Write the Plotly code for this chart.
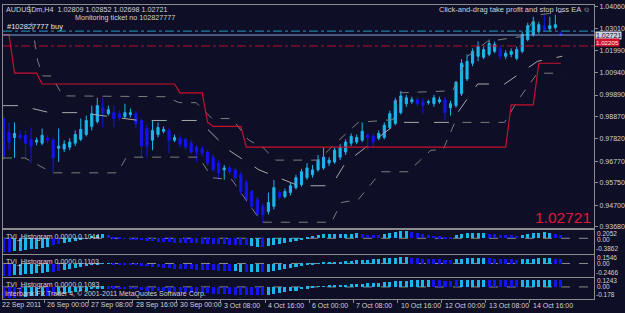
import plotly.graph_objects as go

# ---------------- data ----------------
open_ = [0.9878,0.9813,0.9789,0.9799,0.9799,0.9780,0.9767,0.9762,0.9785,0.9776,
         0.9738,0.9734,0.9743,0.9762,0.9780,0.9803,0.9841,0.9864,0.9929,0.9901,
         0.9906,0.9901,0.9887,0.9897,0.9901,0.9869,0.9831,0.9776,0.9803,0.9818,
         0.9822,0.9776,0.9785,0.9780,0.9762,0.9743,0.9734,0.9720,0.9696,0.9668,
         0.9636,0.9645,0.9636,0.9613,0.9575,0.9534,0.9496,0.9464,0.9440,0.9464,
         0.9529,0.9510,0.9529,0.9552,0.9566,0.9599,0.9613,0.9636,0.9645,0.9668,
         0.9673,0.9696,0.9720,0.9762,0.9767,0.9776,0.9799,0.9794,0.9785,0.9789,
         0.9836,0.9855,0.9906,0.9948,0.9957,0.9967,0.9957,0.9953,0.9948,0.9957,
         0.9967,0.9929,0.9939,0.9995,1.0065,1.0139,1.0172,1.0167,1.0181,1.0195,
         1.0209,1.0172,1.0181,1.0162,1.0195,1.0251,1.0274,1.0288,1.0316,1.0302,
         1.0307,1.02809]
high = [0.9892,0.9860,0.9860,0.9822,0.9822,0.9836,0.9789,0.9831,0.9799,0.9789,
        0.9831,0.9776,0.9785,0.9822,0.9878,0.9892,0.9939,0.9976,0.9976,0.9939,
        0.9939,0.9915,0.9948,0.9925,0.9915,0.9878,0.9850,0.9869,0.9860,0.9841,
        0.9836,0.9803,0.9799,0.9789,0.9776,0.9752,0.9748,0.9729,0.9711,0.9682,
        0.9659,0.9654,0.9645,0.9627,0.9589,0.9543,0.9510,0.9478,0.9529,0.9589,
        0.9543,0.9548,0.9575,0.9613,0.9641,0.9668,0.9659,0.9706,0.9743,0.9696,
        0.9743,0.9757,0.9780,0.9808,0.9803,0.9860,0.9808,0.9808,0.9822,0.9860,
        0.9915,0.9976,1.0009,0.9990,0.9981,0.9981,0.9976,0.9967,0.9990,0.9981,
        0.9981,0.9962,1.0055,1.0158,1.0181,1.0209,1.0242,1.0218,1.0251,1.0242,
        1.0223,1.0200,1.0209,1.0218,1.0288,1.0330,1.0358,1.0335,1.0367,1.0358,
        1.0367,1.02852]
low = [0.9682,0.9729,0.9692,0.9776,0.9692,0.9668,0.9752,0.9752,0.9762,0.9622,
       0.9673,0.9720,0.9729,0.9748,0.9771,0.9794,0.9822,0.9855,0.9836,0.9892,
       0.9836,0.9869,0.9878,0.9883,0.9831,0.9696,0.9696,0.9729,0.9789,0.9808,
       0.9715,0.9767,0.9743,0.9729,0.9711,0.9673,0.9701,0.9654,0.9627,0.9589,
       0.9589,0.9613,0.9580,0.9520,0.9482,0.9449,0.9417,0.9389,0.9426,0.9449,
       0.9496,0.9501,0.9515,0.9543,0.9557,0.9589,0.9599,0.9627,0.9636,0.9654,
       0.9664,0.9682,0.9706,0.9748,0.9757,0.9767,0.9729,0.9743,0.9776,0.9780,
       0.9827,0.9846,0.9897,0.9934,0.9948,0.9934,0.9901,0.9943,0.9934,0.9948,
       0.9869,0.9892,0.9929,0.9985,1.0055,1.0125,1.0148,1.0158,1.0172,1.0186,
       1.0158,1.0158,1.0167,1.0153,1.0186,1.0242,1.0265,1.0279,1.0288,1.0288,
       1.0298,1.02698]
close = [0.9692,0.9767,0.9808,0.9789,0.9762,0.9748,0.9776,0.9799,0.9776,0.9692,
         0.9748,0.9757,0.9767,0.9803,0.9827,0.9869,0.9901,0.9939,0.9901,0.9920,
         0.9878,0.9883,0.9906,0.9906,0.9855,0.9748,0.9748,0.9822,0.9836,0.9827,
         0.9776,0.9789,0.9757,0.9743,0.9720,0.9720,0.9715,0.9668,0.9636,0.9622,
         0.9645,0.9627,0.9599,0.9534,0.9496,0.9464,0.9426,0.9426,0.9482,0.9552,
         0.9506,0.9534,0.9561,0.9599,0.9627,0.9645,0.9636,0.9682,0.9696,0.9682,
         0.9729,0.9743,0.9767,0.9794,0.9789,0.9818,0.9789,0.9767,0.9808,0.9846,
         0.9901,0.9962,0.9985,0.9976,0.9967,0.9948,0.9939,0.9957,0.9976,0.9967,
         0.9906,0.9948,1.0050,1.0139,1.0148,1.0195,1.0218,1.0204,1.0232,1.0228,
         1.0172,1.0186,1.0195,1.0204,1.0274,1.0316,1.0335,1.0321,1.0298,1.0316,
         1.0321,1.02721]

# red trailing-stop step line (bar position, price)
red_x = [0, 1, 2, 6, 7, 31, 32, 36, 37, 38, 43, 44, 91, 92, 96, 97, 101]
red_y = [1.0274, 1.0274, 1.0092, 1.0092, 1.0041, 1.0041, 0.9999, 0.9999, 0.9860,
         0.9841, 0.9841, 0.9743, 0.9743, 0.9943, 0.9943, 1.0139, 1.0139]

# grey channel lines (bar position, price)
up_x = [4.6, 6.22, 7.12, 8.75, 10.73, 29.49, 31.83, 34.9, 37.78, 41.39, 44.45, 47.16,
        49.32, 57.08, 59.79, 64.3, 70.6, 71.5, 81.4, 84.1, 87.7, 94.0, 96.8, 101.3]
up_y = [1.0414, 1.0148, 1.0079, 1.0079, 0.9985, 0.9981, 0.9953, 0.9953, 0.9878, 0.9878,
        0.9776, 0.9738, 0.9682, 0.9682, 0.9752, 0.9860, 0.9873, 0.9999, 1.0009, 1.0172,
        1.0242, 1.0265, 1.0367, 1.0381]
mid_x = [-0.09, 2.98, 8.39, 13.8, 24.6, 35.4, 40.8, 46.3, 53.5, 59.42, 61.94, 71.5,
         81.06, 85.93, 90.8, 96.75, 101.26]
mid_y = [0.9939, 0.9939, 0.9906, 0.9906, 0.9869, 0.9869, 0.9729, 0.9636, 0.9561, 0.9561,
         0.9668, 0.9860, 0.9860, 1.0041, 1.0041, 1.0148, 1.0172]
lo_x = [-0.09, 3.88, 8.93, 20.65, 22.27, 35.4, 37.8, 41.4, 43.9, 46.8, 59.42, 61.23, 64.29,
        68.44, 73.31, 77.46, 79.62, 81.79, 90.8, 93.14, 96.75, 101.26]
lo_y = [0.9692, 0.9692, 0.9622, 0.9622, 0.9696, 0.9696, 0.9599, 0.9589, 0.9496, 0.9389,
        0.9389, 0.9482, 0.9496, 0.9627, 0.9627, 0.9729, 0.9729, 0.9860, 0.9860, 0.9962,
        1.0092, 1.0092]

take_profit = 1.02905
bid = 1.02721
stop_loss = 1.02205

price_ticks = [1.04060, 1.03010, 1.01990, 1.00940, 0.99890, 0.98870,
               0.97820, 0.96770, 0.95750, 0.94700, 0.93680]

time_labels = ["22 Sep 2011", "26 Sep 00:00", "27 Sep 08:00", "28 Sep 16:00",
               "30 Sep 00:00", "3 Oct 08:00", "4 Oct 16:00", "6 Oct 00:00",
               "7 Oct 08:00", "10 Oct 16:00", "12 Oct 00:00", "13 Oct 08:00",
               "14 Oct 16:00"]

tvi1 = [-0.344,-0.332,-0.320,-0.308,-0.295,-0.271,-0.258,-0.246,-0.221,-0.172,
        -0.148,-0.123,-0.098,-0.074,-0.049,-0.017,0.062,0.086,0.098,0.074,
        0.037,0.012,-0.012,-0.025,-0.037,-0.049,-0.062,-0.074,-0.086,-0.098,
        -0.098,-0.111,-0.123,-0.123,-0.123,-0.123,-0.135,-0.135,-0.148,-0.148,
        -0.148,-0.160,-0.160,-0.172,-0.172,-0.197,-0.209,-0.209,-0.185,-0.160,
        -0.135,-0.111,-0.086,-0.062,-0.025,0.037,0.062,0.074,0.098,0.098,
        0.098,0.111,0.111,0.111,0.123,0.098,0.086,0.086,0.074,0.098,
        0.123,0.148,0.185,0.172,0.148,0.123,0.098,0.074,0.062,0.049,
        0.025,0.037,0.074,0.098,0.123,0.123,0.135,0.135,0.111,0.098,
        0.086,0.074,0.074,0.062,0.086,0.098,0.123,0.135,0.148,0.135,
        0.098,0.086]
tvi1_dir = ("DD" + "U"*7 + "DD" + "U"*8 + "D"*26 + "UU" + "D" + "U"*17 + "D"*4
            + "U"*5 + "D"*8 + "U"*6 + "D"*6 + "U"*6 + "DD")
tvi2 = [-0.218,-0.209,-0.201,-0.192,-0.183,-0.174,-0.166,-0.157,-0.148,-0.140,
        -0.131,-0.113,-0.096,-0.078,-0.061,-0.044,-0.026,-0.009,0.005,0.005,
        -0.005,-0.009,-0.012,-0.017,-0.026,-0.035,-0.044,-0.052,-0.061,-0.070,
        -0.078,-0.087,-0.087,-0.096,-0.096,-0.105,-0.105,-0.113,-0.113,-0.122,
        -0.122,-0.131,-0.131,-0.140,-0.140,-0.148,-0.148,-0.148,-0.140,-0.122,
        -0.105,-0.087,-0.070,-0.052,-0.035,-0.017,-0.005,0.005,0.014,0.021,
        0.028,0.035,0.044,0.052,0.061,0.070,0.073,0.078,0.087,0.096,
        0.096,0.105,0.113,0.113,0.105,0.096,0.087,0.087,0.078,0.078,
        0.073,0.073,0.078,0.087,0.096,0.096,0.105,0.105,0.096,0.087,
        0.087,0.078,0.078,0.070,0.078,0.087,0.087,0.096,0.096,0.096,
        0.087,0.078]
tvi2_dir = ("DD" + "U"*7 + "DD" + "U"*9 + "D"*22 + "UU" + "D" + "UU" + "D" + "U"*26
            + "D"*8 + "U"*6 + "D"*6 + "U"*6 + "DD")
tvi3 = [-0.173,-0.173,-0.166,-0.158,-0.151,-0.144,-0.144,-0.137,-0.137,-0.130,
        -0.122,-0.115,-0.101,-0.086,-0.072,-0.058,-0.043,-0.036,-0.029,-0.029,
        -0.029,-0.032,-0.036,-0.040,-0.043,-0.050,-0.058,-0.065,-0.072,-0.072,
        -0.079,-0.079,-0.086,-0.086,-0.094,-0.094,-0.101,-0.101,-0.108,-0.108,
        -0.115,-0.115,-0.122,-0.122,-0.130,-0.130,-0.130,-0.130,-0.122,-0.115,
        -0.101,-0.086,-0.072,-0.058,-0.043,-0.029,-0.017,-0.007,0.004,0.010,
        0.014,0.022,0.029,0.033,0.037,0.043,0.048,0.052,0.058,0.065,
        0.072,0.079,0.086,0.086,0.089,0.089,0.091,0.091,0.094,0.091,
        0.086,0.086,0.091,0.094,0.098,0.101,0.101,0.101,0.098,0.094,
        0.094,0.091,0.089,0.089,0.094,0.101,0.101,0.101,0.101,0.101,
        0.098,0.094]
tvi3_dir = ("D"*4 + "U"*4 + "DD" + "U"*9 + "D"*29 + "U"*30 + "D"*5 + "U"*5 + "D"*6
            + "U"*6 + "DD")

panel_ranges = [(-0.3862, 0.2052), (-0.2466, 0.1546), (-0.178, 0.1243)]
panel_titles = ["TVI_Histogram 0.0000 0.1044", "TVI_Histogram 0.0000 0.1103",
                "TVI_Histogram 0.0000 0.1083"]

# ---------------- style ----------------
W, H = 625, 313
BG = "#0e0e27"
FRAME = "#8c8c8c"
TXT = "#d2d2d2"
CYAN = "#1cb6ec"
BLUE = "#1414f0"
GREY = "#7d7d7d"
GREY_L = "#a8a8a8"
RED = "#c8102e"
FONT = "Liberation Sans"

def px_x(p):
    return p / W

def px_y(p):
    return 1 - p / H

n = len(close)
bars = list(range(n))
xr = [-0.09, 107.03]

fig = go.Figure()

# channel lines
for xs, ys, col, dash in [(up_x, up_y, GREY, "dash"), (lo_x, lo_y, GREY, "dash"),
                          (mid_x, mid_y, GREY_L, "longdash")]:
    fig.add_trace(go.Scatter(x=xs, y=ys, mode="lines", line=dict(color=col, width=1, dash=dash),
                             xaxis="x", yaxis="y", hoverinfo="skip", showlegend=False))
fig.add_trace(go.Scatter(x=red_x, y=red_y, mode="lines", line=dict(color=RED, width=1.2),
                         xaxis="x", yaxis="y", hoverinfo="skip", showlegend=False))

fig.add_trace(go.Candlestick(
    x=bars, open=open_, high=high, low=low, close=close,
    increasing=dict(line=dict(color=CYAN, width=1), fillcolor=CYAN),
    decreasing=dict(line=dict(color=BLUE, width=1), fillcolor=BLUE),
    whiskerwidth=0, xaxis="x", yaxis="y", hoverinfo="skip", showlegend=False))

for k, (vals, dirs) in enumerate([(tvi1, tvi1_dir), (tvi2, tvi2_dir), (tvi3, tvi3_dir)]):
    fig.add_trace(go.Bar(x=bars, y=vals, width=0.55,
                         marker=dict(color=[CYAN if d == "U" else BLUE for d in dirs], line=dict(width=0)),
                         xaxis="x%d" % (k + 2), yaxis="y%d" % (k + 2),
                         hoverinfo="skip", showlegend=False))

# panel geometry (pixels)
main_px = (3, 229)
panels_px = [(231, 255), (256, 279), (280, 301)]
xdom = [px_x(3), px_x(597)]

layout = dict(
    width=W, height=H, margin=dict(l=0, r=0, t=0, b=0),
    paper_bgcolor=BG, plot_bgcolor=BG, boxgap=0.45, bargap=0,
    font=dict(family=FONT, size=7, color=TXT),
    showlegend=False,
)
axis_common = dict(showgrid=False, zeroline=False, showline=True, linecolor=FRAME,
                   linewidth=1, mirror=True)
layout["xaxis"] = dict(domain=xdom, range=xr, anchor="y", showticklabels=False, ticks="",
                       rangeslider=dict(visible=False), **axis_common)
layout["yaxis"] = dict(domain=[px_y(main_px[1]), px_y(main_px[0])], range=[0.93614, 1.04139],
                       anchor="x", side="right", tickvals=price_ticks,
                       ticktext=["%.5f" % v for v in price_ticks], ticks="outside", ticklen=3,
                       tickcolor=FRAME, tickfont=dict(size=7, color=TXT), **axis_common)
for k, (top, bot) in enumerate(panels_px):
    xa, ya = "xaxis%d" % (k + 2), "yaxis%d" % (k + 2)
    last = k == 2
    layout[xa] = dict(domain=xdom, range=xr, anchor="y%d" % (k + 2), showticklabels=False,
                      ticks="outside" if last else "", ticklen=3, tickcolor=FRAME,
                      tickvals=[8 * i - 0.6 for i in range(len(time_labels))] if last else None,
                      **axis_common)
    layout[ya] = dict(domain=[px_y(bot), px_y(top)], range=list(panel_ranges[k]),
                      anchor="x%d" % (k + 2), side="right", showticklabels=False, ticks="",
                      **axis_common)
fig.update_layout(**layout)

shapes = []
# zero level lines in indicator windows
for k in range(3):
    shapes.append(dict(type="line", xref="x%d domain" % (k + 2), x0=0, x1=1,
                       yref="y%d" % (k + 2), y0=0, y1=0, layer="below",
                       line=dict(color="#8a8a8a", width=1, dash="dash")))
shapes.append(dict(type="line", xref="x domain", x0=0, x1=1, yref="y", y0=take_profit,
                   y1=take_profit, line=dict(color="#1f9fbf", width=1, dash="dashdot")))
shapes.append(dict(type="line", xref="x domain", x0=0, x1=1, yref="y", y0=bid, y1=bid,
                   line=dict(color="#86a2d6", width=1)))
shapes.append(dict(type="line", xref="x domain", x0=0, x1=1, yref="y", y0=stop_loss,
                   y1=stop_loss, line=dict(color="#b81030", width=1, dash="dashdot")))
fig.update_layout(shapes=shapes)

ann = []
def text(s, x, y, anchor="left", size=7, color=TXT, **kw):
    ann.append(dict(text=s, x=px_x(x), y=px_y(y), xref="paper", yref="paper",
                    xanchor=anchor, yanchor="middle", showarrow=False, borderpad=0,
                    font=dict(size=size, color=color, family=FONT), **kw))

text("AUDUSDm,H4\u00a0\u00a01.02809 1.02852 1.02698 1.02721", 5, 7.5, size=7.2)
text("Monitoring ticket no 102827777", 74, 15.5, size=7.2)
text("#102827777 buy", 6, 24.5, size=7.5, color="#e6e6e6")
text("Click-and-drag take profit and stop loss EA \u263a", 594, 8, anchor="right", size=7.5)
text("%.5f" % bid, 595, 218, anchor="right", size=15.5, color="#e0193a")
for k, (top, bot) in enumerate(panels_px):
    text(panel_titles[k], 5, top + 7, size=7)
text("Interbank FX Trader 4, \u00a9 2001-2011 MetaQuotes Software Corp.", 4, 296, size=7)

# indicator window scale labels (max, zero level, min)
sub_labels = [("0.2052", 234.3), ("0.00", 240.6), ("-0.3862", 250),
              ("0.1546", 258.4), ("0.00", 264.7), ("-0.2466", 274.3),
              ("0.1243", 282.4), ("0.00", 288.6), ("-0.178", 296.3)]
for s, y in sub_labels:
    text(s, 599 if not s.startswith("-") else 598, y, size=6.5, color=TXT)

# price boxes on the scale
ann.append(dict(text="%.5f" % bid, x=px_x(598), y=bid, xref="paper", yref="y", xanchor="left",
                yanchor="middle", showarrow=False, bgcolor="#c9d1e2", borderpad=0,
                font=dict(size=7, color="#101010", family=FONT)))
ann.append(dict(text="%.5f" % stop_loss, x=px_x(598), y=stop_loss, xref="paper", yref="y",
                xanchor="left", yanchor="middle", showarrow=False, bgcolor="#d0102c", borderpad=0,
                yshift=3, font=dict(size=6.2, color="#f0f0f0", family=FONT)))

# time scale labels
for i, s in enumerate(time_labels):
    pos = max(8 * i - 0.6, 0)
    ann.append(dict(text=s, x=pos, y=px_y(307), xref="x4", yref="paper", xanchor="left",
                    yanchor="middle", showarrow=False, xshift=1 if i else -3,
                    font=dict(size=7, color=TXT, family=FONT)))
fig.update_layout(annotations=ann)

fig.write_html("out.html")
